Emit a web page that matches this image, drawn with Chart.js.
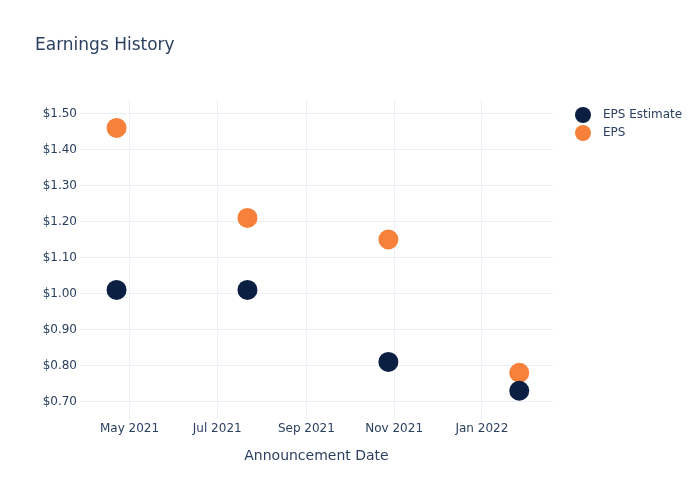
<!DOCTYPE html>
<html>
<head>
<meta charset="utf-8">
<script src="https://cdn.jsdelivr.net/npm/chart.js@4.4.1/dist/chart.umd.min.js"></script>
<style>
  html, body { margin: 0; padding: 0; background: #ffffff; }
  #wrap { width: 700px; height: 500px; }
</style>
</head>
<body>
<div id="wrap"><canvas id="chart" width="700" height="500"></canvas></div>
<script>
// ---- Data ----
const chartTitle = 'Earnings History';
const xAxisTitle = 'Announcement Date';
const seriesNames = ['EPS Estimate', 'EPS'];
const announcementDates = ['2021-04-22', '2021-07-22', '2021-10-28', '2022-01-27'];
const epsEstimate = [1.01, 1.01, 0.81, 0.73];
const epsActual = [1.46, 1.21, 1.15, 0.78];
const xTickDates = ['2021-05-01', '2021-07-01', '2021-09-01', '2021-11-01', '2022-01-01'];
const yTickValues = [0.70, 0.80, 0.90, 1.00, 1.10, 1.20, 1.30, 1.40, 1.50];

// ---- Styling / ranges ----
const navy = '#0b1f42';
const orange = '#f7813a';
const textColor = '#2a3f5f';
const gridColor = '#ebf0f8';
const fontFamily = "'DejaVu Sans', Verdana, sans-serif";
const xMin = Date.parse('2021-03-27T14:00:00Z');
const xMax = Date.parse('2022-02-19T10:00:00Z');
const yMin = 0.6486;
const yMax = 1.5375;
const monthNames = ['Jan','Feb','Mar','Apr','May','Jun','Jul','Aug','Sep','Oct','Nov','Dec'];

function toPoints(dates, values) {
  return dates.map((d, i) => ({ x: Date.parse(d), y: values[i] }));
}
function fmtDate(v) {
  const d = new Date(v);
  return monthNames[d.getUTCMonth()] + ' ' + d.getUTCFullYear();
}
function markerCanvas(color) {
  const c = document.createElement('canvas');
  c.width = 22; c.height = 16;
  const g = c.getContext('2d');
  g.fillStyle = color;
  g.beginPath();
  g.arc(8, 8, 8, 0, Math.PI * 2);
  g.fill();
  return c;
}

new Chart(document.getElementById('chart'), {
  type: 'scatter',
  data: {
    datasets: [
      {
        label: seriesNames[0],
        data: toPoints(announcementDates, epsEstimate),
        backgroundColor: navy,
        borderColor: navy,
        borderWidth: 0,
        pointRadius: 10,
        pointHoverRadius: 10
      },
      {
        label: seriesNames[1],
        data: toPoints(announcementDates, epsActual),
        backgroundColor: orange,
        borderColor: orange,
        borderWidth: 0,
        pointRadius: 10,
        pointHoverRadius: 10
      }
    ]
  },
  options: {
    responsive: false,
    animation: false,
    devicePixelRatio: 1,
    events: [],
    layout: { padding: { top: 0, left: 35, right: 7.8, bottom: 0 } },
    plugins: {
      title: {
        display: true,
        text: chartTitle,
        align: 'start',
        color: textColor,
        font: { family: fontFamily, size: 17, weight: 'normal' },
        padding: { top: 35, bottom: 44.6 }
      },
      legend: {
        position: 'right',
        align: 'start',
        fullSize: false,
        title: { display: true, text: '', padding: 1, font: { size: 1, lineHeight: 1 } },
        labels: {
          usePointStyle: true,
          pointStyleWidth: 22,
          padding: 6,
          color: textColor,
          font: { family: fontFamily, size: 12 },
          generateLabels(chart) {
            const items = Chart.defaults.plugins.legend.labels.generateLabels(chart);
            items.forEach(it => { it.pointStyle = markerCanvas(it.fillStyle); });
            return items;
          }
        }
      },
      tooltip: { enabled: false }
    },
    scales: {
      x: {
        type: 'linear',
        position: 'bottom',
        min: xMin,
        max: xMax,
        afterBuildTicks(s) { s.ticks = xTickDates.map(d => ({ value: Date.parse(d) })); },
        afterFit(s) { s.height = 80; },
        grid: { color: gridColor, drawTicks: false, lineWidth: 1 },
        border: { display: false },
        ticks: {
          padding: 2,
          color: textColor,
          font: { family: fontFamily, size: 12 },
          maxRotation: 0,
          autoSkip: false,
          callback: v => fmtDate(v)
        },
        title: {
          display: true,
          text: xAxisTitle,
          color: textColor,
          font: { family: fontFamily, size: 14 },
          padding: { top: 0, bottom: 35.4 }
        }
      },
      y: {
        type: 'linear',
        position: 'left',
        min: yMin,
        max: yMax,
        afterBuildTicks(s) { s.ticks = yTickValues.map(v => ({ value: v })); },
        afterFit(s) { s.width = 45; },
        grid: { color: gridColor, drawTicks: false, lineWidth: 1 },
        border: { display: false },
        ticks: {
          padding: 3,
          color: textColor,
          font: { family: fontFamily, size: 12 },
          callback: v => '$' + Number(v).toFixed(2)
        }
      },
      yGap: {
        type: 'linear',
        position: 'right',
        display: false,
        afterFit(s) { s.width = 16; }
      }
    }
  }
});
</script>
</body>
</html>
